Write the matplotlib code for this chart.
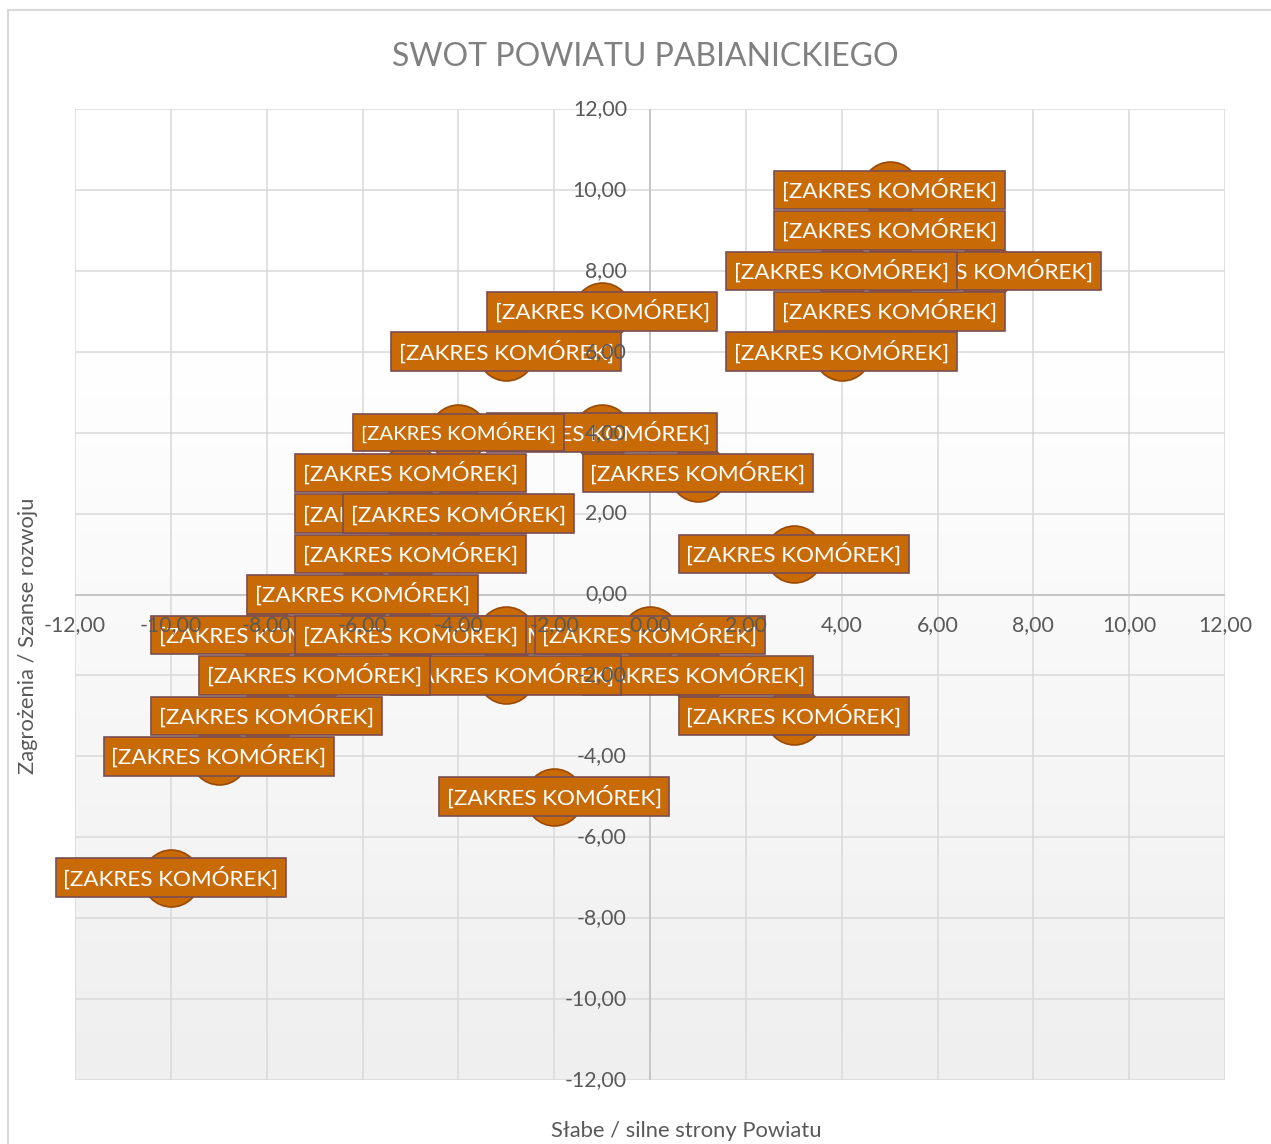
import matplotlib
matplotlib.use("Agg")
import matplotlib.pyplot as plt
import matplotlib.patches as mpatches
import matplotlib.transforms as mtransforms
import numpy as np

# points (draw order matters: later labels cover earlier ones)
xs = [5, 5, 7, 4, 5, 4, -1, -3, -1, -4, 1, -5, -5, -4, -5, 3, -6,
      -8, -3, -5, 0, 1, -3, -7, 3, -8, -9, -2, -10]
ys = [10, 9, 8, 8, 7, 6, 7, 6, 4, 4, 3, 3, 2, 2, 1, 1, 0,
      -1, -1, -1, -1, -2, -2, -2, -3, -3, -4, -5, -7]
label_text = "[ZAKRES KOMÓREK]"
ticks = [-12, -10, -8, -6, -4, -2, 0, 2, 4, 6, 8, 10, 12]

title = "SWOT POWIATU PABIANICKIEGO"
xlabel = "Słabe / silne strony Powiatu"
ylabel = "Zagrożenia / Szanse rozwoju"

_ORANGE = "#C86A06"
_EDGE = "#7A4E52"
_DOT_EDGE = "#9A4A05"
_GRID = "#D9D9D9"
_TXT = "#595959"

plt.rcParams["font.family"] = ["Lato", "DejaVu Sans"]

fig = plt.figure(figsize=(12.71, 11.44), dpi=100)
fig.patches.append(mpatches.Rectangle((8 / 1271, -0.1), 1.2, 1 - 10 / 1144 + 0.1,
                                      transform=fig.transFigure, fill=False,
                                      edgecolor="#D9D9D9", linewidth=1.5))
ax = fig.add_axes([75 / 1271, 1 - 1080 / 1144, 1150 / 1271, 971 / 1144])
ax.set_xlim(-12, 12)
ax.set_ylim(-12, 12)
for s in ax.spines.values():
    s.set_visible(False)
ax.set_xticks([])
ax.set_yticks([])

# background gradient (white top -> light gray bottom)
yy = np.linspace(12, -12, 300)
shade = np.clip((6 - yy) / 18, 0, 1)
top = np.array([1.0, 1.0, 1.0])
bot = np.array([0xEF, 0xEF, 0xEF]) / 255
grad = top[None, :] * (1 - shade[:, None]) + bot[None, :] * shade[:, None]
ax.imshow(grad[:, None, :], extent=(-12, 12, -12, 12), aspect="auto", zorder=0)

for t in ticks:
    ax.axvline(t, color=_GRID, linewidth=1.1, zorder=1)
    ax.axhline(t, color=_GRID, linewidth=1.1, zorder=1)
ax.axvline(0, color="#BFBFBF", linewidth=1.1, zorder=1.2)
ax.axhline(0, color="#BFBFBF", linewidth=1.1, zorder=1.2)

ax.scatter(xs, ys, s=41 ** 2, color=_ORANGE, edgecolor=_DOT_EDGE, linewidth=1.2,
           zorder=3, clip_on=False)

for i, (x, y) in enumerate(zip(xs, ys)):
    fs = 16.2
    pad = 0.34
    if (x, y) == (-4, 4):
        fs = 14.6
        pad = 0.40
    ax.text(x, y, label_text, ha="center", va="center", fontsize=fs, color="white",
            zorder=4 + i * 0.01, clip_on=False,
            bbox=dict(boxstyle=f"square,pad={pad}", facecolor=_ORANGE,
                      edgecolor=_EDGE, linewidth=1.2))

fmt = lambda v: f"{v:.2f}".replace(".", ",")
xoff = mtransforms.offset_copy(ax.transData, fig=fig, x=0, y=-31, units="dots")
yoff = mtransforms.offset_copy(ax.transData, fig=fig, x=-23, y=0, units="dots")
for t in ticks:
    ax.text(t, 0, fmt(t), transform=xoff, ha="center", va="center",
            fontsize=15.3, color=_TXT, zorder=10, clip_on=False)
    ax.text(0, t, fmt(t), transform=yoff, ha="right", va="center",
            fontsize=15.3, color=_TXT, zorder=10, clip_on=False)

fig.text(645 / 1271, 1 - 57 / 1144, title, ha="center", va="center",
         fontsize=23, color="#808080")
fig.text(686 / 1271, 1 - 1131 / 1144, xlabel, ha="center", va="center",
         fontsize=15.8, color=_TXT)
fig.text(28 / 1271, 1 - 636 / 1144, ylabel, ha="center", va="center",
         rotation=90, fontsize=15.8, color=_TXT)

fig.savefig("out.png", dpi=100)
